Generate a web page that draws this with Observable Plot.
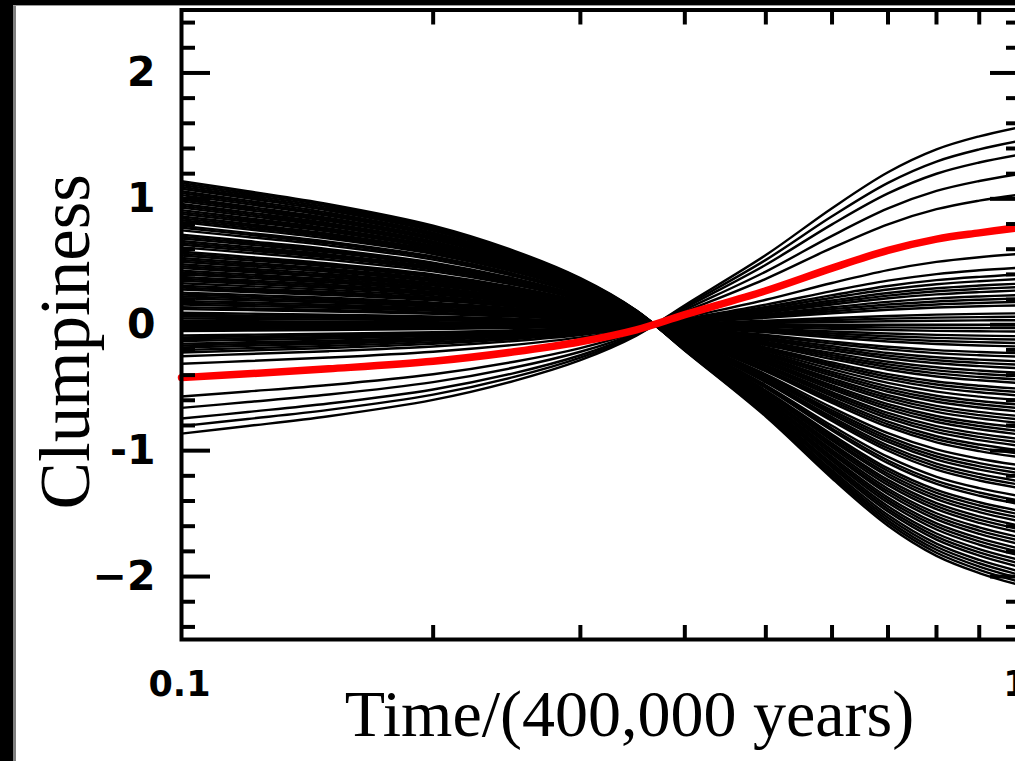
<!DOCTYPE html>
<html>
<head>
<meta charset="utf-8">
<script src="https://cdn.jsdelivr.net/npm/d3@7"></script>
<script src="https://cdn.jsdelivr.net/npm/@observablehq/plot@0.6"></script>
<style>
  html, body { margin: 0; padding: 0; background: #fff; overflow: hidden; }
  #wrap { position: relative; width: 1015px; height: 761px; overflow: hidden; background: #fff; }
  #chart { position: absolute; left: 0; top: 0; }
  #chart svg { max-width: none !important; height: 761px !important; width: 1040px !important; }
  .bl { position: absolute; left: 0; top: 0; width: 13px; height: 761px; background: #000; }
  .gl { position: absolute; left: 13px; top: 0; width: 3px; height: 761px; background: #808080; }
  .bt { position: absolute; left: 0; top: 0; width: 1015px; height: 5px; background: #000; }
  .gt { position: absolute; left: 13px; top: 5px; width: 1002px; height: 1px; background: #9a9a9a; }
</style>
</head>
<body>
<div id="wrap">
  <div id="chart"></div>
  <div class="bl"></div><div class="gl"></div><div class="bt"></div><div class="gt"></div>
</div>
<script>
// Sample times (units of 400,000 years)
const times = [0.1, 0.12, 0.15, 0.2, 0.25, 0.3, 0.35, 0.4, 0.5, 0.6, 0.7, 0.8, 0.9, 1.0];
// Common shape (value / value at t = 0.1)
const profile = [1, 0.93, 0.84, 0.69, 0.515, 0.325, 0.10, -0.18, -0.64, -1.07, -1.40, -1.61, -1.73, -1.81];
const startValues = [
  1.14, 1.125, 1.11, 1.095, 1.08, 1.06, 1.045, 1.03, 1.01, 0.995, 0.98, 0.96, 0.945, 0.93,
  0.91, 0.895, 0.88, 0.86, 0.845, 0.83, 0.815, 0.785, 0.77, 0.75, 0.715, 0.70, 0.685, 0.665,
  0.65, 0.635, 0.615, 0.58, 0.565, 0.55, 0.53, 0.515, 0.50, 0.48, 0.465, 0.45, 0.43, 0.415,
  0.40, 0.38, 0.365, 0.35, 0.33, 0.31, 0.295, 0.28, 0.255, 0.24, 0.225, 0.21, 0.19, 0.175,
  0.16, 0.14, 0.125, 0.095, 0.08, 0.065, 0.05, 0.03, 0.015, 0.0, -0.02, -0.035, -0.05,
  -0.085, -0.10, -0.115, -0.13, -0.15, -0.165, -0.18, -0.20, -0.22, -0.25, -0.31,
  -0.57, -0.66, -0.745, -0.805, -0.865
];
// Highlighted (red) curve
const redValues = [-0.42, -0.39, -0.35, -0.29, -0.215, -0.135, -0.04, 0.08, 0.27, 0.45, 0.59, 0.68, 0.73, 0.77];

// Axis ticks and labels
const yMajor = [-2, -1, 0, 1, 2];
const yMajorLabels = ["\u22122", "-1", "0", "1", "2"];
const yMinor = [-2.4, -2.2, -1.8, -1.6, -1.4, -1.2, -0.8, -0.6, -0.4, -0.2, 0.2, 0.4, 0.6, 0.8, 1.2, 1.4, 1.6, 1.8, 2.2, 2.4];
const xLabelTicks = [0.1, 1];
const xLabelText = ["0.1", "1"];
const xMinor = [0.2, 0.3, 0.4, 0.5, 0.6, 0.7, 0.8, 0.9];

const W = 1040, H = 761, mL = 181, mR = 23, mT = 9.5, mB = 122;
const plotW = W - mL - mR, plotH = H - mT - mB;

const blackRows = startValues.flatMap((a, i) => times.map((t, j) => ({t, v: a * profile[j], id: i})));
const redRows = times.map((t, j) => ({t, v: redValues[j]}));

const tickStyle = {stroke: "#000", strokeWidth: 4};
const numFont = {fontFamily: "DejaVu Sans", fontWeight: "bold", fill: "#000"};

const chart = Plot.plot({
  width: W, height: H,
  marginLeft: mL, marginRight: mR, marginTop: mT, marginBottom: mB,
  style: {background: "#fff", color: "#000", maxWidth: "none"},
  x: {type: "log", domain: [0.1, 1]},
  y: {domain: [-2.5, 2.5]},
  marks: [
    Plot.line(blackRows, {x: "t", y: "v", z: "id", stroke: "#000", strokeWidth: 2.4, curve: "catmull-rom"}),
    Plot.line(redRows, {x: "t", y: "v", stroke: "#ff0000", strokeWidth: 7.5, curve: "catmull-rom"}),
    // left ticks
    Plot.tickY(yMajor, {y: d => d, insetRight: plotW - 29, ...tickStyle}),
    Plot.tickY(yMinor, {y: d => d, insetRight: plotW - 14, ...tickStyle}),
    // right ticks
    Plot.tickY(yMajor, {y: d => d, insetLeft: plotW - 27, ...tickStyle}),
    Plot.tickY(yMinor, {y: d => d, insetLeft: plotW - 11, ...tickStyle}),
    // bottom & top ticks
    Plot.tickX(xMinor, {x: d => d, insetTop: plotH - 14, ...tickStyle}),
    Plot.tickX(xMinor, {x: d => d, insetBottom: plotH - 15, ...tickStyle}),
    Plot.frame({stroke: "#000", strokeWidth: 4}),
    Plot.axisY({ticks: yMajor, tickSize: 0, tickPadding: 26, label: null, fontSize: 41, ...numFont,
      tickFormat: d => yMajorLabels[yMajor.indexOf(d)]}),
    Plot.axisX({ticks: xLabelTicks, tickSize: 0, tickPadding: 32, label: null, fontSize: 35, dx: -2, ...numFont,
      tickFormat: d => xLabelText[xLabelTicks.indexOf(d)]}),
    Plot.text(["Clumpiness"], {text: d => d, frameAnchor: "left", rotate: -90, dx: -93, dy: 17,
      lineAnchor: "bottom", textAnchor: "middle", fontFamily: "Liberation Serif", fontSize: 71, fill: "#000"}),
    Plot.text(["Time/(400,000 years)"], {text: d => d, frameAnchor: "bottom", dx: 30, dy: 96,
      lineAnchor: "bottom", textAnchor: "middle", fontFamily: "Liberation Serif", fontSize: 66, fill: "#000"})
  ]
});
document.getElementById("chart").appendChild(chart);
</script>
</body>
</html>
